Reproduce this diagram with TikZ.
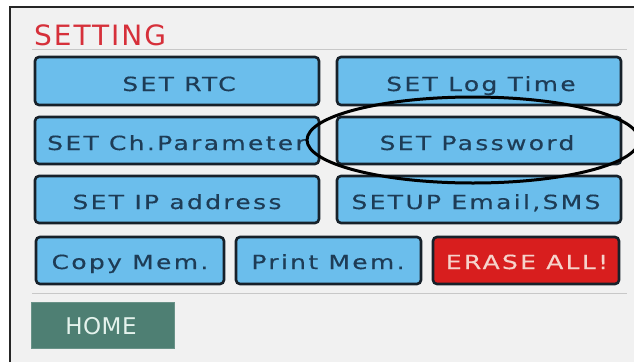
\documentclass[tikz,border=0pt]{standalone}
\usepackage{fontspec}
\usetikzlibrary{shapes.geometric}
\newfontfamily\lcdfont[FakeStretch=1.28,LetterSpace=12,FakeBold=0.4]{DejaVu Sans}
\newfontfamily\titlefont[LetterSpace=7]{DejaVu Sans}
\newfontfamily\homefont[LetterSpace=2]{DejaVu Sans}
\definecolor{bg}{HTML}{F1F1F1}
\definecolor{btnfill}{HTML}{6BBEEC}
\definecolor{btnline}{HTML}{17212A}
\definecolor{btntext}{HTML}{1E3C56}
\definecolor{erasefill}{HTML}{D81E1E}
\definecolor{erasetext}{HTML}{F6D3CB}
\definecolor{homefill}{HTML}{4E7F73}
\definecolor{hometext}{HTML}{E4F2EC}
\definecolor{titlered}{HTML}{D6303A}
\definecolor{sepline}{HTML}{C8C8C8}
\tikzset{
  btn/.style={draw=btnline, line width=2.6pt, fill=btnfill, rounded corners=4pt},
  btnlabel/.style={anchor=base, text=btntext, font=\lcdfont\fontsize{19.5}{21}\selectfont, inner sep=0pt},
  erasebtn/.style={draw=btnline, line width=2.6pt, fill=erasefill, rounded corners=4pt},
  homebtn/.style={fill=homefill, draw=homefill!85!white, line width=1pt},
  sep/.style={draw=sepline, line width=1pt},
  ring/.style={draw=black, line width=3pt, ellipse, inner sep=0pt, minimum width=332pt, minimum height=86pt},
}
\begin{document}
\begin{tikzpicture}[x=1pt,y=-1pt]
\useasboundingbox (0,0) rectangle (634,362);
\clip (0,0) rectangle (634,362);
\fill[white] (0,0) rectangle (634,362);
\fill[bg] (10,7) rectangle (634,362);
\draw[line width=1.6pt, black!85] (10,362) -- (10,7) -- (634,7);
% title
\node[anchor=base west, inner sep=0pt, text=titlered, font=\titlefont\fontsize{28}{30}\selectfont] (title) at (34,45) {SETTING};
\draw[sep] (32,49) -- (627,49);
\draw[sep] (32,293) -- (627,293);
% buttons
\draw[btn] (35,57) rectangle (319,105);
\node[btnlabel] (rtc) at (179,91) {SET RTC};
\draw[btn] (337,57) rectangle (621,105);
\node[btnlabel] (logtime) at (481,91) {SET Log Time};
\draw[btn] (35,117) rectangle (319,164);
\node[btnlabel, anchor=base west] (chpar) at (47,150) {SET Ch.Parameter};
\draw[btn] (337,117) rectangle (621,164);
\node[btnlabel] (pwd) at (477,150) {SET Password};
\draw[btn] (35,176) rectangle (319,223);
\node[btnlabel] (ip) at (177,209) {SET IP address};
\draw[btn] (337,176) rectangle (621,223);
\node[btnlabel] (email) at (476,209) {SETUP Email,SMS};
\draw[btn] (36,237) rectangle (224,284);
\node[btnlabel] (copy) at (130,269) {Copy Mem.};
\draw[btn] (236,237) rectangle (421,284);
\node[btnlabel] (print) at (328,269) {Print Mem.};
\draw[erasebtn] (433,237) rectangle (619,284);
\node[btnlabel, text=erasetext] (erase) at (527,269) {ERASE ALL!};
% home
\draw[homebtn] (31,302) rectangle (174,348);
\node[anchor=base, inner sep=0pt, text=hometext, font=\homefont\fontsize{23}{25}\selectfont] (home) at (101,334) {HOME};
% highlight ellipse
\node[ring] (ringnode) at (473,140) {};
\end{tikzpicture}
\end{document}
